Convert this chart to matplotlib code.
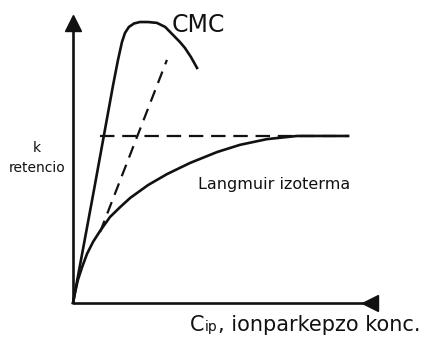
import matplotlib
matplotlib.use('Agg')
import matplotlib.pyplot as plt

# schematic curves, arbitrary units (axes run 0..10)
cmc_x = [0, 0.69, 1.32, 1.48, 1.61, 1.71, 1.84, 2.01, 2.20, 2.47, 2.76, 3.03, 3.29, 3.52, 3.68, 3.88, 4.08]
cmc_y = [0, 3.94, 7.60, 8.47, 9.09, 9.41, 9.62, 9.74, 9.79, 9.79, 9.76, 9.62, 9.34, 9.09, 8.89, 8.57, 8.19]

lang_x = [0, 0.07, 0.16, 0.30, 0.46, 0.66, 0.89, 1.22, 1.55, 1.88, 2.47, 3.09, 3.85, 4.74, 5.49, 6.38, 7.37, 9.05]
lang_y = [0, 0.38, 0.80, 1.25, 1.71, 2.13, 2.51, 3.00, 3.34, 3.66, 4.11, 4.49, 4.88, 5.26, 5.51, 5.71, 5.82, 5.82]

tangent_x = [0.89, 3.09]
tangent_y = [2.47, 8.47]

plateau_x = [0.89, 9.05]
plateau_y = [5.82, 5.82]

ink = '#111111'

fig = plt.figure(figsize=(4.33, 3.38), dpi=100)
ax = fig.add_axes([73/433, 35/338, 304/433, 287/338])
ax.set_xlim(0, 10)
ax.set_ylim(0, 10)
ax.axis('off')

# axes with arrow heads
ax.plot([0, 0], [0, 9.5], color=ink, lw=1.9, clip_on=False, solid_capstyle='butt')
ax.plot(0, 9.75, marker='^', ms=11, color=ink, clip_on=False)
ax.plot([0, 9.77], [0, 0], color=ink, lw=1.9, clip_on=False, solid_capstyle='butt')
ax.plot(9.77, 0, marker='<', ms=11, color=ink, clip_on=False)

ax.plot(cmc_x, cmc_y, color=ink, lw=1.9, clip_on=False, solid_joinstyle='round')
ax.plot(lang_x, lang_y, color=ink, lw=1.9, clip_on=False, solid_joinstyle='round')
ax.plot(tangent_x, tangent_y, color=ink, lw=1.6, dashes=(5.5, 3.5))
ax.plot(plateau_x, plateau_y, color=ink, lw=1.6, dashes=(6.5, 3.5))

ax.text(3.26, 9.44, 'CMC', fontsize=17, color=ink, va='baseline')
ax.text(4.11, 3.97, 'Langmuir izoterma', fontsize=11.5, color=ink, va='baseline')
ax.text(-1.18, 5.26, 'k', fontsize=10, color=ink, ha='center', va='baseline')
ax.text(-1.18, 4.56, 'retencio', fontsize=10, color=ink, ha='center', va='baseline')

# x label: big C, small "ip" on the same baseline, then the rest
lx, ly = 3.85, -0.98
t_c = ax.text(lx, ly, 'C', fontsize=15, color=ink, va='baseline', clip_on=False)
fig.canvas.draw()
w_c = t_c.get_window_extent().width * 72 / fig.dpi
t_ip = ax.annotate('ip', xy=(lx, ly), xytext=(w_c + 0.5, 0), textcoords='offset points',
                   fontsize=10, color=ink, va='baseline', annotation_clip=False)
fig.canvas.draw()
w_ip = t_ip.get_window_extent().width * 72 / fig.dpi
ax.annotate(', ionparkepzo konc.', xy=(lx, ly), xytext=(w_c + 0.5 + w_ip, 0),
            textcoords='offset points', fontsize=15, color=ink, va='baseline',
            annotation_clip=False)

plt.savefig('out.png', dpi=100)
